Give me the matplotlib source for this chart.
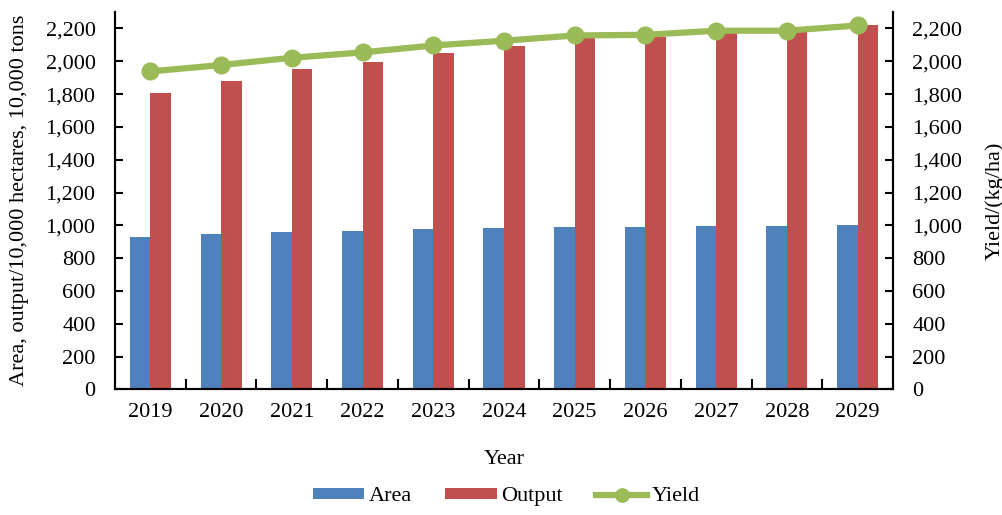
import matplotlib.pyplot as plt
import matplotlib.ticker as mticker
import numpy as np

# Data
years = ['2019', '2020', '2021', '2022', '2023', '2024', '2025', '2026', '2027', '2028', '2029']
area = [932, 948, 960, 968, 975, 985, 990, 993, 998, 998, 1000]
output = [1806, 1879, 1950, 1993, 2052, 2095, 2139, 2148, 2172, 2178, 2218]
yield_ = [1938, 1977, 2021, 2054, 2096, 2125, 2157, 2161, 2186, 2186, 2218]

plt.rcParams['font.family'] = ['Liberation Serif', 'DejaVu Serif']
plt.rcParams['font.size'] = 16

c_area = '#4F81BD'
c_out = '#C0504D'
c_yield = '#9BBB59'

fig = plt.figure(figsize=(10.03, 5.15), dpi=100)
ax = fig.add_axes([0.1147, 0.2437, 0.7756, 0.733])
ax2 = ax.twinx()

x = np.arange(len(years))
w = 0.29
ax.bar(x - w/2, area, w, color=c_area, label='Area', zorder=2)
ax.bar(x + w/2, output, w, color=c_out, label='Output', zorder=2)
ax2.plot(x, yield_, color=c_yield, lw=4.5, marker='o', ms=12, label='Yield', zorder=3)

fmt = mticker.FuncFormatter(lambda v, p: '{:,.0f}'.format(v))
for a in (ax, ax2):
    a.set_ylim(0, 2300)
    a.set_xlim(-0.5, len(years) - 0.5)
    a.set_yticks(np.arange(0, 2201, 200))
    a.yaxis.set_major_formatter(fmt)
    a.tick_params(axis='y', direction='in', length=6, width=1.5, pad=14)
    for s in a.spines.values():
        s.set_linewidth(1.5)
    a.spines['top'].set_visible(False)

ax.set_xticks(x)
ax.set_xticklabels(years)
ax.tick_params(axis='x', length=0, pad=10)
ax.set_xticks(np.arange(0.5, len(years) - 1, 1), minor=True)
ax.tick_params(axis='x', which='minor', direction='in', length=7, width=1.5)

ax.set_xlabel('Year', labelpad=20)
ax.set_ylabel('Area, output/10,000 hectares, 10,000 tons', labelpad=12)
ax2.set_ylabel('Yield/(kg/ha)', labelpad=16)

h1, l1 = ax.get_legend_handles_labels()
h2, l2 = ax2.get_legend_handles_labels()
fig.legend(h1 + h2, l1 + l2, loc='lower center', bbox_to_anchor=(0.505, -0.022),
           ncol=3, frameon=False, handlelength=2.3, handleheight=0.4,
           columnspacing=1.5, handletextpad=0.2, markerscale=0.8)

fig.savefig('out.png', dpi=100)
